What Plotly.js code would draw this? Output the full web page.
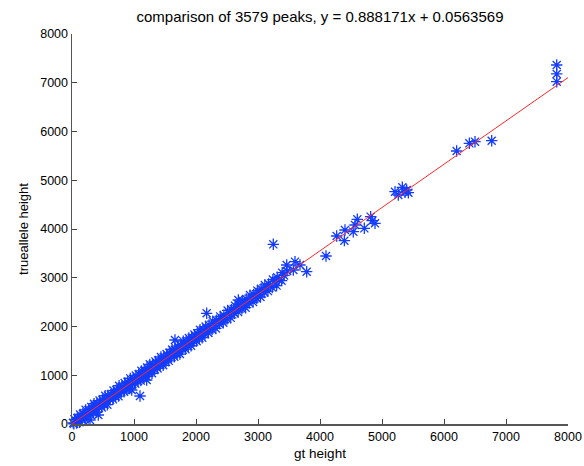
<!DOCTYPE html>
<html>
<head>
<meta charset="utf-8">
<script src="https://cdn.plot.ly/plotly-3.0.1.min.js"></script>
<style>html,body{margin:0;padding:0;background:#fff;}#chart{width:584px;height:466px;}</style>
</head>
<body>
<div id="chart"></div>
<script>
// Band (middle of the cloud)
const gtMid = [20,65,110,155,200,245,290,335,380,425,
  470,515,560,605,650,695,740,785,830,875,
  920,965,1010,1055,1100,1145,1190,1235,1280,1325,
  1370,1415,1460,1505,1550,1595,1640,1685,1730,1775,
  1820,1865,1910,1955,2000,2045,2090,2135,2180,2240,
  2300,2360,2420,2480,2540,2600,2660,2720,2780,2840,
  2900,2960,3020,3080,3140,3200,3270,3340,3420];
const taMid = [23,50,110,133,193,208,264,285,355,373,
  426,442,517,531,580,599,669,688,759,774,
  825,837,911,930,996,1005,1062,1081,1158,1173,
  1227,1239,1303,1326,1392,1410,1468,1481,1540,1565,
  1634,1653,1705,1719,1789,1808,1876,1891,1947,1975,
  2059,2090,2158,2184,2270,2300,2384,2411,2479,2507,
  2581,2608,2698,2728,2800,2832,2919,2958,3047];
// Band (upper edge)
const gtUp = [40,85,130,175,220,265,310,355,400,445,
  490,535,580,625,670,715,760,805,850,895,
  940,985,1030,1075,1120,1165,1210,1255,1300,1345,
  1390,1435,1480,1525,1570,1615,1660,1705,1750,1795,
  1840,1885,1930,1975,2020,2065,2110,2155,2210,2270,
  2330,2390,2450,2510,2570,2630,2690,2750,2810,2870,
  2930,2990,3050,3110,3170,3240,3310,3390,3470];
const taUp = [96,120,195,210,290,285,350,415,410,480,
  495,580,585,605,685,700,785,770,840,865,
  935,925,995,1020,1090,1090,1159,1224,1214,1284,
  1304,1374,1369,1434,1459,1529,1524,1599,1624,1699,
  1694,1764,1769,1834,1859,1934,1929,1999,2032,2111,
  2129,2207,2231,2329,2347,2425,2449,2527,2565,2644,
  2657,2735,2773,2852,2875,2962,3009,3105,3141];
// Band (lower edge)
const gtLow = [30,75,120,165,210,255,300,345,390,435,
  480,525,570,615,660,705,750,795,840,885,
  930,975,1020,1065,1110,1155,1200,1245,1290,1335,
  1380,1425,1470,1515,1560,1605,1650,1695,1740,1785,
  1830,1875,1920,1965,2010,2055,2100,2145,2200,2260,
  2320,2380,2440,2500,2560,2620,2680,2740,2800,2860,
  2920,2980,3040,3100,3160,3230,3300,3380];
const taLow = [5,22,37,92,96,176,186,246,246,331,
  341,401,396,496,506,566,571,651,661,716,
  726,816,826,881,891,971,976,1046,1041,1120,
  1140,1210,1205,1275,1295,1375,1380,1440,1435,1525,
  1535,1595,1605,1690,1700,1760,1770,1845,1869,1937,
  1960,2053,2077,2155,2178,2272,2295,2363,2386,2480,
  2503,2581,2605,2698,2726,2798,2840,2941];
// Isolated peaks
const gtOut = [290,424,963,1097,1204,1661,2172,2683,3247,3463,
  3597,3677,3785,3570,4097,4269,4393,4403,4537,4565,
  4602,4715,4817,4843,4887,5210,5263,5328,5371,5425,
  5398,6204,6409,6500,6769,7818,7818,7818];
const taOut = [82,185,697,574,903,1723,2271,2544,3686,3262,
  3330,3262,3124,3159,3446,3856,3761,3980,3945,4082,
  4199,4014,4253,4171,4117,4765,4697,4855,4753,4745,
  4800,5600,5758,5791,5811,7364,7180,7022];

const fitSlope = 0.888171;
const fitIntercept = 0.0563569;
const fitX = [0, 8000];
const tickVals = [0,1000,2000,3000,4000,5000,6000,7000,8000];
const tickText = ['0','1000','2000','3000','4000','5000','6000','7000','8000'];
const nPeaks = 3579;

const gtAll = gtMid.concat(gtUp, gtLow, gtOut);
const taAll = taMid.concat(taUp, taLow, taOut);
const fitY = fitX.map(v => fitSlope * v + fitIntercept);

const font = 'Liberation Sans, Arial, Helvetica, sans-serif';

const traces = [
  {
    x: gtAll, y: taAll, type: 'scatter', mode: 'markers',
    marker: {symbol: 'asterisk-open', size: 9.5, color: 'rgb(20,60,255)',
             line: {color: 'rgb(20,60,255)', width: 1.3}},
    cliponaxis: false, hoverinfo: 'skip'
  },
  {
    x: fitX, y: fitY, type: 'scatter', mode: 'lines',
    line: {color: 'rgb(255,40,40)', width: 1}, hoverinfo: 'skip'
  }
];

const axisCommon = {
  range: [0, 8000], tickvals: tickVals, ticktext: tickText,
  ticks: 'inside', ticklen: 5, tickwidth: 1, tickcolor: '#444',
  showline: true, linecolor: '#555', linewidth: 1.5, mirror: false,
  showgrid: false, zeroline: false,
  tickfont: {family: font, size: 12.5, color: '#000'}
};

const layout = {
  width: 584, height: 466,
  margin: {l: 72, r: 16, t: 34, b: 42, pad: 0},
  paper_bgcolor: '#fff', plot_bgcolor: '#fff',
  showlegend: false,
  font: {family: font, color: '#000'},
  title: {
    text: 'comparison of ' + nPeaks + ' peaks, y = ' + fitSlope + 'x + ' + fitIntercept,
    font: {family: font, size: 15, color: '#000'},
    x: 0.5, xref: 'paper', xanchor: 'center',
    y: 1 - 17/466, yref: 'container', yanchor: 'middle'
  },
  xaxis: Object.assign({}, axisCommon, {
    title: {text: 'gt height', font: {family: font, size: 13.5, color: '#000'}, standoff: 6}
  }),
  yaxis: Object.assign({}, axisCommon, {
    title: {text: 'trueallele height', font: {family: font, size: 13, color: '#000'}, standoff: 8}
  })
};

Plotly.newPlot('chart', traces, layout, {displayModeBar: false, staticPlot: true});
</script>
</body>
</html>
